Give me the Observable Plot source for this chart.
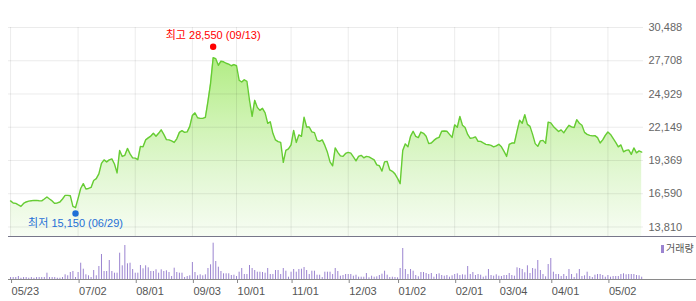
<!DOCTYPE html>
<html><head><meta charset="utf-8">
<script src="https://cdn.jsdelivr.net/npm/d3@7"></script>
<script src="https://cdn.jsdelivr.net/npm/@observablehq/plot@0.6"></script>
<style>
body{margin:0;background:#fff;}
#chart{position:relative;width:696px;height:301px;font-family:'Liberation Sans','Noto Sans CJK KR',sans-serif;}
#chart svg{display:block;}
.legend{position:absolute;left:661px;top:243px;font-size:10px;color:#555;line-height:12px;white-space:nowrap;}
.legend i{display:inline-block;width:3px;height:8px;background:#9b84d0;margin-right:2px;vertical-align:-1px;}
</style></head><body><div id="chart"></div>
<script>
// trading-day index of each labelled month tick
const tickIndex = [0, 26, 48, 70, 87, 108, 130, 149, 171, 188, 208, 230];
const tickLabels = ["05/23","07/02","08/01","09/03","10/01","11/01","12/03","01/02","02/01","03/04","04/01","05/02"];
const yTicks = [13810, 16590, 19369, 22149, 24929, 27708, 30488];
const priceFloor = 13014;
const volumeMax = 430;

// daily closing price, 2018-05-23 .. 2019-05-22 (one value per trading day)
const price = [
15990,15820,15780,15650,15530,15780,15900,15970,16000,16030,
16030,16000,15990,16150,16320,16150,15990,15780,15820,15900,
16150,16450,16450,16420,15530,15420,16200,17030,17430,16990,
17030,17120,17700,17850,18250,19130,19420,19250,19420,19500,
19080,18330,20210,19710,19800,20380,19920,19590,19570,19440,
20550,20510,21090,21260,21410,21640,21390,21640,21930,21550,
21110,21090,21010,20880,21180,21720,21860,21720,21760,22220,
23140,23350,22940,22890,22890,22980,24320,25820,27960,27880,
27330,27670,27620,27500,27420,27290,27390,27290,26080,25930,
26120,25990,24400,23060,24400,23810,23560,23730,23350,22480,
22600,21640,21090,20940,20880,19210,20210,20340,20670,21890,
20880,21510,21390,22980,22170,22170,21760,21700,21050,20970,
21090,20630,20050,19250,18920,20420,20050,19750,19710,19960,
20050,19990,19670,19340,19710,19800,19590,19710,19670,19540,
19420,19000,18930,18480,19250,19290,18580,18460,18250,17870,
17430,20210,20760,20510,21390,21810,21390,21280,21750,21640,
21390,20780,20830,21050,21220,21300,21810,21830,21810,21550,
21300,22350,22140,23060,22310,22120,21550,21220,21260,21340,
20970,20970,20840,20720,20690,20630,20510,20590,20720,20510,
20130,19710,20720,20830,20830,21810,22730,22480,23190,22390,
22220,21550,20780,20550,21010,21050,20800,22580,22520,22220,
22010,21790,21930,21680,22010,22310,22180,22120,22780,22480,
22310,21720,21550,21470,21430,21450,21280,20830,21090,21470,
21750,21550,21220,20880,20510,20670,20090,20210,20260,19880,
20420,20010,20170,20070];

// daily volume (thousand shares)
const volume = [
20,20,20,30,13,20,20,13,20,13,
20,20,20,20,63,20,20,20,13,13,
20,47,37,70,80,20,70,163,103,47,
37,20,90,37,130,250,80,80,190,80,
63,63,263,137,340,157,163,100,63,63,
140,107,137,117,80,80,97,63,97,80,
87,70,30,113,70,63,63,20,30,37,
170,70,37,47,37,47,110,147,363,180,
123,80,57,57,57,40,43,30,73,110,
50,50,140,110,90,73,73,70,63,110,
50,50,90,90,50,110,83,23,73,100,
73,100,103,120,90,50,83,83,43,43,
20,73,73,73,50,110,80,33,40,50,
50,50,33,43,23,23,23,60,17,33,
23,27,40,53,83,43,20,23,20,17,
110,310,100,50,100,83,40,27,70,70,
60,50,60,23,50,57,40,33,40,23,
37,50,57,40,47,43,130,50,70,40,
50,43,23,33,100,40,33,47,33,30,
40,40,60,40,33,117,110,100,67,137,
60,110,103,190,90,50,27,150,210,73,
50,50,30,50,30,100,50,20,57,100,
30,37,73,30,20,43,50,50,40,23,
40,23,30,30,30,50,57,47,50,50,
50,40,37,23];

const highMark = [{index: 78, value: 28550, date: "09/13"}];
const lowMark = [{index: 25, value: 15150, date: "06/29"}];

const rows = price.map((p, i) => ({i, price: p, vol: volume[i]}));
const fmt = d3.format(",");
const labelOf = new Map(tickIndex.map((t, k) => [t, tickLabels[k]]));
const xDomain = [-0.8, 243.7];
const font = "'Liberation Sans','Noto Sans CJK KR',sans-serif";

const priceChart = Plot.plot({
  width: 696, height: 236,
  marginLeft: 8, marginRight: 53, marginTop: 27, marginBottom: 0,
  style: {fontFamily: font, fontSize: "11px", background: "transparent", overflow: "visible"},
  x: {domain: xDomain, range: [8, 643], axis: null},
  y: {domain: [priceFloor, 30488], range: [236, 27], axis: null},
  marks: [
    Plot.areaY(rows, {x: "i", y1: priceFloor, y2: "price", fill: "url(#pgrad)"}),
    Plot.gridY(yTicks, {stroke: "#000", strokeOpacity: 0.08}),
    Plot.gridX(tickIndex, {stroke: "#000", strokeOpacity: 0.08}),
    Plot.lineY(rows, {x: "i", y: "price", stroke: "#66cc33", strokeWidth: 1.4}),
    Plot.dot(highMark, {x: "index", y: "value", r: 3.2, fill: "#ff0000", dy: -4}),
    Plot.text(highMark, {x: "index", y: "value", dy: -15, fill: "#ff0000", fontSize: 11,
      text: d => `최고 ${fmt(d.value)} (${d.date})`}),
    Plot.dot(lowMark, {x: "index", y: "value", r: 3.2, fill: "#1f6fd6", dy: 2.5}),
    Plot.text(lowMark, {x: "index", y: "value", dy: 12.5, fill: "#1f6fd6", fontSize: 11,
      text: d => `최저 ${fmt(d.value)} (${d.date})`}),
    Plot.axisY(yTicks, {anchor: "right", tickSize: 0, tickPadding: 5, tickFormat: fmt,
      fontSize: 11, fill: "#666", label: null})
  ]
});

// gradient for the price area
const ns = "http://www.w3.org/2000/svg";
const defs = document.createElementNS(ns, "defs");
const grad = document.createElementNS(ns, "linearGradient");
grad.setAttribute("id", "pgrad");
grad.setAttribute("gradientUnits", "userSpaceOnUse");
grad.setAttribute("x1", "0"); grad.setAttribute("x2", "0");
grad.setAttribute("y1", "55"); grad.setAttribute("y2", "236");
[["0", "#b1ec83"], ["0.35", "#cdf3b0"], ["0.65", "#e2f7d3"], ["1", "#f7fdf3"]].forEach(([o, c]) => {
  const s = document.createElementNS(ns, "stop");
  s.setAttribute("offset", o); s.setAttribute("stop-color", c);
  grad.appendChild(s);
});
defs.appendChild(grad);
priceChart.insertBefore(defs, priceChart.firstChild);

const volumeChart = Plot.plot({
  width: 696, height: 65,
  marginLeft: 8, marginRight: 0, marginTop: 0, marginBottom: 22,
  style: {fontFamily: font, fontSize: "11px", background: "transparent", overflow: "visible"},
  x: {domain: xDomain, range: [8, 643], axis: null},
  y: {domain: [0, volumeMax], axis: null},
  marks: [
    Plot.ruleX(rows, {x: "i", y1: 0, y2: "vol", stroke: "#9b84d0", strokeWidth: 1}),
    Plot.ruleY([0], {stroke: "#8a8a8a"}),
    Plot.ruleY([volumeMax], {stroke: "#77778a"}),
    Plot.axisX(tickIndex, {anchor: "bottom", tickSize: 4, tickPadding: 4, textAnchor: "start", dx: 1,
      tickFormat: d => labelOf.get(d), fontSize: 11, stroke: "#888", fill: "#555", label: null})
  ]
});

const root = document.getElementById("chart");
root.appendChild(priceChart);
root.appendChild(volumeChart);
const legend = document.createElement("div");
legend.className = "legend";
legend.innerHTML = "<i></i>거래량";
root.appendChild(legend);
</script>
</body></html>
